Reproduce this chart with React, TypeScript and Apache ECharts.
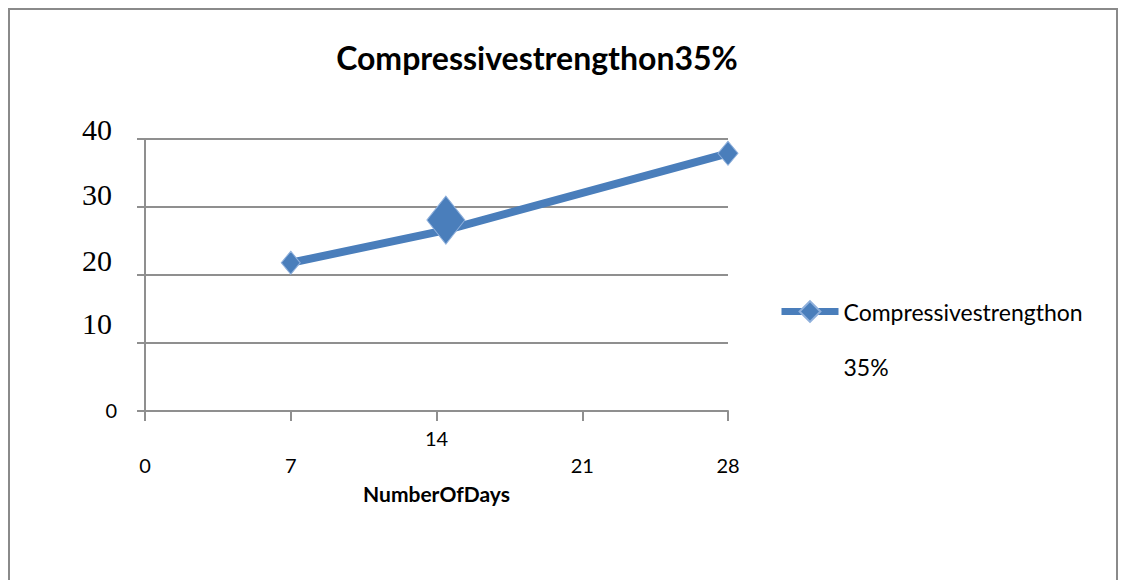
import React, { useEffect, useRef } from "react";
import * as echarts from "echarts";

// Chart content
const chartTitle = "Compressivestrengthon35%";
const xAxisTitle = "NumberOfDays";
const seriesName = "Compressivestrengthon 35%";
const days = [7, 14.45, 28];
const strength = [21.8, 26.6, 37.9];
const xTickValues = [0, 7, 14, 21, 28];
const yTickValues = [0, 10, 20, 30, 40];

// Marker appearance per point
const markerSizes = [
  [19, 23],
  [38, 48],
  [20, 24],
];
const markerOffsets = [
  [0, 0],
  [0, -10],
  [0, 0],
];

const BLUE = "#4A7EBB";
const GRID_GREY = "#8f8f8f";
const SANS = "Lato, 'Noto Sans', sans-serif";
const SERIF = "'Liberation Serif', 'DejaVu Serif', serif";

export default function App() {
  const ref = useRef<HTMLDivElement>(null);

  useEffect(() => {
    if (!ref.current) return;
    const chart = echarts.init(ref.current, undefined, { renderer: "svg" });

    const points = days.map((d, i) => ({
      value: [d, strength[i]],
      symbolSize: markerSizes[i],
      symbolOffset: markerOffsets[i],
    }));

    // y labels sit a little above their grid lines
    const yLift: Record<number, number> = { 10: 20, 20: 15, 30: 13, 40: 10 };
    const yRich: Record<string, any> = {
      z: { fontFamily: SANS, fontSize: 20, color: "#000", padding: [0, 0, 2, 0] },
    };
    yTickValues.forEach((v) => {
      if (v !== 0) {
        yRich["s" + v] = {
          fontFamily: SERIF,
          fontSize: 30,
          color: "#000",
          padding: [0, 5, 2 * yLift[v], 0],
        };
      }
    });

    chart.setOption({
      animation: false,
      backgroundColor: "#ffffff",
      graphic: [
        {
          type: "polyline",
          shape: {
            points: [
              [9, 580],
              [9, 9],
              [1117, 9],
              [1117, 580],
            ],
          },
          style: { stroke: "#8a8a8a", lineWidth: 2, fill: "none" },
          silent: true,
        },
        {
          type: "text",
          x: 537,
          y: 57,
          style: {
            text: chartTitle,
            textAlign: "center",
            textVerticalAlign: "middle",
            fontFamily: SANS,
            fontWeight: "bold",
            fontSize: 32,
            fill: "#000",
          },
        },
      ],
      grid: { left: 145, right: 397, top: 139, bottom: 169, containLabel: false },
      xAxis: {
        type: "value",
        min: xTickValues[0],
        max: xTickValues[xTickValues.length - 1],
        interval: 7,
        name: xAxisTitle,
        nameLocation: "middle",
        nameGap: 72,
        nameTextStyle: { fontFamily: SANS, fontWeight: "bold", fontSize: 21, color: "#000" },
        axisLine: { show: true, lineStyle: { color: GRID_GREY, width: 2 } },
        axisTick: { show: true, length: 10, lineStyle: { color: GRID_GREY, width: 2 } },
        splitLine: { show: false },
        axisLabel: {
          margin: 13,
          formatter: (v: number) => (v === 14 ? `{n|${v}}\n{n| }` : `{n| }\n{n|${v}}`),
          rich: { n: { fontFamily: SANS, fontSize: 20, lineHeight: 27, color: "#000" } },
        },
      },
      yAxis: {
        type: "value",
        min: yTickValues[0],
        max: yTickValues[yTickValues.length - 1],
        interval: 10,
        axisLine: { show: true, lineStyle: { color: GRID_GREY, width: 2 } },
        axisTick: { show: true, length: 8, lineStyle: { color: GRID_GREY, width: 2 } },
        splitLine: { show: true, lineStyle: { color: GRID_GREY, width: 2 } },
        axisLabel: {
          margin: 28,
          formatter: (v: number) => (v === 0 ? `{z|${v}}` : `{s${v}|${v}}`),
          rich: yRich,
        },
      },
      legend: {
        show: true,
        left: 778,
        top: 300,
        padding: 0,
        itemWidth: 57,
        itemHeight: 26,
        data: [seriesName],
        lineStyle: { width: 7, color: BLUE },
        formatter: (name: string) =>
          name
            .split(" ")
            .map((part) => `{a|${part}}`)
            .join("\n"),
        textStyle: {
          padding: [55, 0, 0, 0],
          rich: { a: { fontFamily: SANS, fontSize: 23, lineHeight: 55, color: "#000" } },
        },
      },
      series: [
        {
          name: seriesName,
          type: "line",
          data: points,
          symbol: "diamond",
          color: BLUE,
          lineStyle: { color: BLUE, width: 8 },
          itemStyle: { color: BLUE, borderColor: "#8fb0dc", borderWidth: 1 },
          z: 3,
        },
      ],
    });

    return () => chart.dispose();
  }, []);

  return (
    <div
      ref={ref}
      style={{ position: "fixed", left: 0, top: 0, width: 1125, height: 580 }}
    />
  );
}
